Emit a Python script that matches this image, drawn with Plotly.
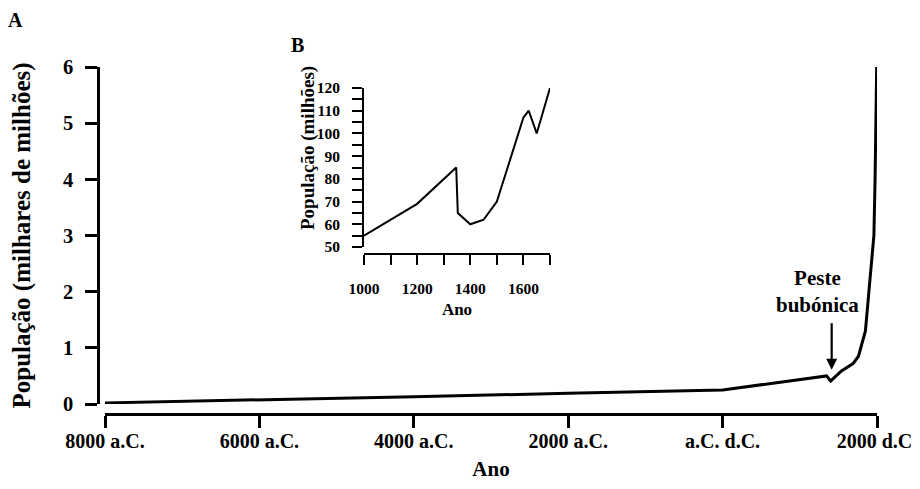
import plotly.graph_objects as go

# ---- Data (main panel A) ----
years_a = [-8000, -6000, -4000, -2000, 1, 1347, 1400, 1540, 1690, 1760, 1791, 1850, 1895, 1930, 1960, 1975, 1987, 1996]
pop_a = [0.02, 0.07, 0.13, 0.19, 0.25, 0.50, 0.41, 0.59, 0.72, 0.85, 1.0, 1.3, 2.0, 2.5, 3.0, 4.0, 5.0, 6.0]
xtick_vals_a = [-8000, -6000, -4000, -2000, 0, 2000]
xtick_text_a = ["8000 a.C.", "6000 a.C.", "4000 a.C.", "2000 a.C.", "a.C. d.C.", "2000 d.C."]

# ---- Data (inset B) ----
years_b = [1000, 1200, 1347, 1353, 1400, 1450, 1500, 1600, 1620, 1650, 1700]
pop_b = [55, 69, 85, 65, 60, 62, 70, 107, 110, 100, 120]

# annotation data
plague_year = 1413
plague_pop = 0.61

FONT = "Liberation Serif"
OFF = 8  # default page body margin
W, H = 920, 489
L, T = 98 - OFF, 67 - OFF
PR, PB = 877 - OFF, 414 - OFF
R, B = W - PR, H - PB
PW, PH = PR - L, PB - T


def px_x(x):
    return (x - OFF - L) / PW


def px_y(y):
    return (PB - (y - OFF)) / PH


fig = go.Figure()
fig.add_trace(go.Scatter(x=years_a, y=pop_a, mode="lines",
                         line=dict(color="black", width=3), xaxis="x", yaxis="y",
                         showlegend=False, hoverinfo="skip"))
fig.add_trace(go.Scatter(x=years_b, y=pop_b, mode="lines",
                         line=dict(color="black", width=2), xaxis="x2", yaxis="y2",
                         showlegend=False, hoverinfo="skip"))

bold = dict(family=FONT, color="black", weight="bold")

fig.update_layout(
    width=W, height=H,
    margin=dict(l=L, r=R, t=T, b=B),
    paper_bgcolor="white", plot_bgcolor="white",
    font=dict(family=FONT, color="black"),
    xaxis=dict(domain=[px_x(105), px_x(877)], range=[-8000, 2000], anchor="free", position=0,
               showline=True, linecolor="black", linewidth=2.5,
               ticks="outside", ticklen=12, tickwidth=2.5, tickcolor="black",
               tickvals=xtick_vals_a, ticktext=xtick_text_a, ticklabelstandoff=-4,
               tickfont=dict(size=20, **bold), showgrid=False, zeroline=False,
               title=dict(text="Ano", font=dict(size=21, **bold), standoff=10)),
    yaxis=dict(domain=[px_y(404), px_y(67)], range=[0, 6], anchor="free", position=0,
               showline=True, linecolor="black", linewidth=2.5,
               ticks="outside", ticklen=12, tickwidth=2.5, tickcolor="black",
               dtick=1, tick0=0, tickfont=dict(size=20.5, **bold), ticklabelstandoff=8,
               showgrid=False, zeroline=False,
               title=dict(text="População (milhares de milhões)", font=dict(size=25, **bold), standoff=25)),
    xaxis2=dict(domain=[px_x(364), px_x(550)], range=[1000, 1700], anchor="free", position=px_y(254),
                showline=True, linecolor="black", linewidth=1.8,
                ticks="outside", ticklen=10, tickwidth=1.8, tickcolor="black",
                dtick=200, tick0=1000, ticklabelstandoff=10,
                minor=dict(dtick=100, ticks="outside", ticklen=10, tickwidth=1.8, tickcolor="black"),
                tickfont=dict(size=15.5, **bold), showgrid=False, zeroline=False,
                title=dict(text="Ano", font=dict(size=17, **bold), standoff=7)),
    yaxis2=dict(domain=[px_y(247), px_y(88)], range=[50, 120], anchor="free", position=px_x(363),
                showline=True, linecolor="black", linewidth=1.8,
                ticks="outside", ticklen=10, tickwidth=1.8, tickcolor="black",
                dtick=10, tick0=50, ticklabelstandoff=9,
                minor=dict(dtick=5, ticks="outside", ticklen=10, tickwidth=1.8, tickcolor="black"),
                tickfont=dict(size=15.5, **bold), showgrid=False, zeroline=False),
    annotations=[
        dict(text="A", x=px_x(15), y=px_y(20), xref="paper", yref="paper",
             showarrow=False, font=dict(size=20, **bold), xanchor="center", yanchor="middle"),
        dict(text="B", x=px_x(297), y=px_y(45), xref="paper", yref="paper",
             showarrow=False, font=dict(size=20, **bold), xanchor="center", yanchor="middle"),
        dict(text="População (milhões)", x=px_x(308), y=px_y(148), xref="paper", yref="paper",
             showarrow=False, textangle=-90, font=dict(size=19, **bold),
             xanchor="center", yanchor="middle"),
        dict(text="", x=plague_year, y=plague_pop, xref="x", yref="y",
             showarrow=True, ax=0, ay=-48, arrowhead=2, arrowsize=1, arrowwidth=2.2,
             arrowcolor="black", font=dict(size=1)),
        dict(text="Peste<br>bubónica", x=px_x(817), y=px_y(291), xref="paper", yref="paper",
             showarrow=False, font=dict(size=21, **bold), xanchor="center", yanchor="middle",
             align="center"),
    ],
)

fig.write_html("out.html", config={"displayModeBar": False})
